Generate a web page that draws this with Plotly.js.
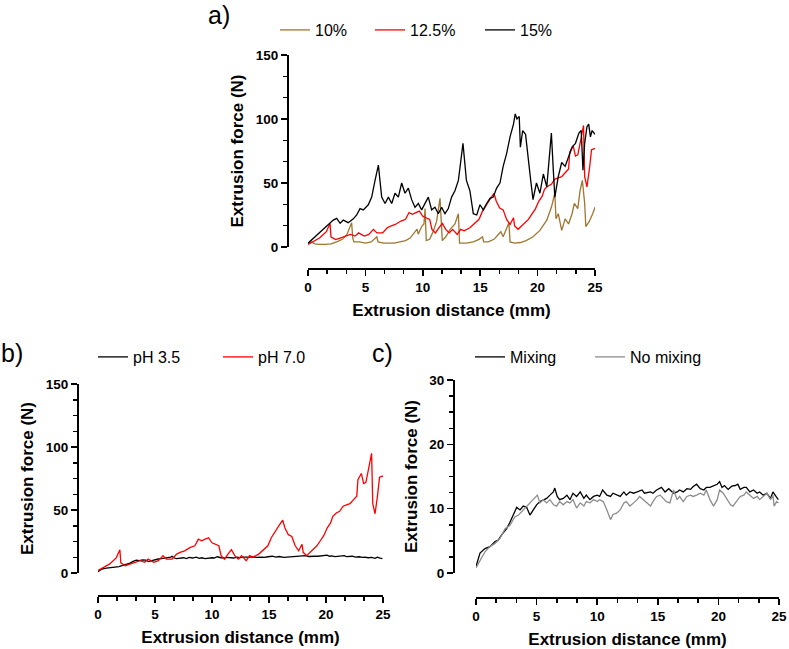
<!DOCTYPE html>
<html><head><meta charset="utf-8">
<script src="https://cdn.plot.ly/plotly-3.0.1.min.js"></script>
<style>html,body{margin:0;padding:0;background:#fff}#chart{width:789px;height:649px}</style>
</head><body><div id="chart"></div>
<script>
// ---- Panel a: extrusion force vs distance at three concentrations ----
const x10 = [0,0.3,0.6,1.0,1.5,2.0,2.5,3.0,3.4,3.7,3.8,3.9,4.0,4.5,5.0,5.5,5.9,6.0,6.1,6.6,7.5,8.0,8.5,8.9,9.2,9.5,9.6,9.9,10.1,10.2,10.3,10.6,10.9,11.2,11.5,11.7,12.0,12.4,12.8,13.1,13.2,13.8,14.4,14.9,15.2,15.3,15.7,16.2,16.6,16.8,17.0,17.3,17.5,17.6,18.0,18.5,19.0,19.6,20.2,20.8,21.2,21.5,21.6,21.8,22.1,22.4,22.7,23.0,23.2,23.5,23.7,23.9,24.1,24.2,24.5,24.8,25.0];
const y10 = [3,4,2.5,2,2,2.5,4,6,10,16,19,7,4,4,3,4,7,8,4,3,3,4,5,7,11,14,10,16,18,30,5,6,12,20,38,5,8,14,18,26,3,3,4,6,8,4,4,6,10,12,8,15,19,4,3,3.5,5,8,13,21,31,42,22,26,13,22,18,26,34,30,44,52,34,16,20,26,31];

const x125 = [0,0.5,1.0,1.6,1.92,2.0,2.4,2.8,3.25,3.7,4.1,4.4,4.9,5.3,5.7,6.0,6.5,6.9,7.2,7.6,8.1,8.5,8.8,9.1,9.4,9.7,10.0,10.3,10.6,10.8,11.1,11.4,11.7,12.0,12.3,12.6,13.0,13.3,13.6,14.1,14.5,14.9,15.2,15.7,15.9,16.2,16.4,16.7,17.0,17.3,17.6,17.9,18.0,18.3,18.6,18.9,19.2,19.5,19.8,20.1,20.4,20.6,20.9,21.2,21.5,21.8,22.1,22.4,22.7,22.8,23.1,23.3,23.5,23.7,23.9,24.0,24.1,24.3,24.5,24.7,25.0];
const y125 = [2,4.2,7,12,18.5,8,5.8,7,8.5,9.8,8.5,11,8.5,9.8,13.8,11,11,15,16.4,17.6,20.3,21.6,26.9,25.6,26.9,28,24,22.8,21.6,13.8,11,15,18.5,13.8,11,13.8,9.8,13.8,12.6,15,18.5,21.6,28,35.7,38,42,35.7,30.4,29,21.6,17.6,22.8,16.4,13.8,16.4,19,21.6,25.6,29.6,35.7,39.7,45,47.6,49,53,54,55,58,61,74,79,71,72,81,91,95,55,47,60,76,77];

const x15 = [0,0.5,1.0,1.5,1.92,2.2,2.5,2.8,3.08,3.5,3.95,4.24,4.53,4.82,5.25,5.55,5.84,6.13,6.42,6.71,7.0,7.29,7.58,7.87,8.16,8.45,8.74,9.03,9.32,9.61,9.9,10.19,10.48,10.77,11.06,11.35,11.64,11.93,12.22,12.51,12.8,13.1,13.4,13.5,13.8,14.1,14.4,14.7,14.98,15.27,15.56,15.85,16.14,16.43,16.72,17.0,17.3,17.6,17.9,18.05,18.2,18.4,18.5,18.7,18.95,19.2,19.4,19.6,19.9,20.2,20.5,20.8,21.1,21.2,21.35,21.5,21.8,22.1,22.4,22.7,23.0,23.3,23.6,23.8,23.95,24.1,24.3,24.45,24.6,24.75,25];
const y15 = [3,7,11,15,18.5,21,22.4,18.5,21,19,22,25,30,29,33,39,52,64,39,34,39,34,42,39,50,42,46,37,31,34,29,34,39,29,31,26,31,26,30,39,44,52,73,81,52,44,26,25,33,29,34,38,39,46,50,63,73,86,96,104,100,102,78,91,88,65,52,37,50,42,57,47,76,89,63,39,55,66,63,71,78,81,89,91,60,81,94,96,86,91,88];

// ---- Panel c: mixing vs no mixing (Mixing curve is also pH 3.5 in panel b) ----
const xMix = [0,0.33,0.74,1.15,1.57,1.84,2.1,2.53,2.8,3.08,3.36,3.63,3.9,4.18,4.45,4.73,5.0,5.28,5.55,5.83,6.1,6.38,6.5,6.7,6.9,7.2,7.5,7.75,8.0,8.3,8.6,8.9,9.1,9.4,9.7,10.0,10.2,10.45,10.8,11.1,11.3,11.6,11.9,12.2,12.4,12.7,13.0,13.3,13.7,13.9,14.4,14.6,14.9,15.3,15.6,15.9,16.3,16.6,16.8,17.1,17.4,17.7,17.9,18.2,18.5,18.8,19.0,19.3,19.6,19.9,20.1,20.3,20.5,20.8,21.1,21.4,21.6,21.8,22.1,22.3,22.6,22.9,23.2,23.4,23.7,24.0,24.3,24.5,24.75,24.95];
const yMix = [1.0,3.1,3.8,4.1,4.9,5.1,5.9,6.9,7.9,9.2,10.2,9.8,10.4,10.2,9.0,9.8,10.6,11.1,11.4,11.6,12.1,12.6,13.2,11.9,11.4,11.6,12.1,11.4,12.4,11.9,12.6,11.6,12.1,11.4,11.9,12.1,11.9,12.9,12.1,11.9,12.4,12.1,11.9,12.6,12.1,12.6,12.4,12.6,12.9,12.4,12.6,12.4,12.9,13.3,12.6,13.1,12.4,12.6,12.9,12.6,13.1,13.0,13.4,13.8,13.1,12.9,13.3,13.3,13.5,13.8,14.2,13.3,13.6,13.0,13.5,13.6,13.8,13.0,13.3,13.3,12.6,12.9,12.4,12.6,12.1,12.4,11.6,12.6,11.9,11.4];
const xNoMix = [0,0.33,0.74,1.15,1.57,1.98,2.4,2.8,3.2,3.5,3.9,4.18,4.45,4.7,5.06,5.28,5.55,5.83,6.1,6.4,6.65,6.9,7.2,7.5,7.75,8.0,8.3,8.6,8.9,9.1,9.4,9.7,10.0,10.2,10.5,10.8,11.1,11.3,11.6,11.9,12.2,12.4,12.7,13.0,13.3,13.5,13.8,14.1,14.4,14.6,14.9,15.2,15.5,15.7,16.0,16.3,16.6,16.8,17.1,17.4,17.7,17.9,18.2,18.5,18.8,19.0,19.3,19.6,19.9,20.1,20.4,20.7,21.0,21.2,21.5,21.8,22.1,22.3,22.6,22.9,23.2,23.4,23.7,24.0,24.3,24.5,24.6,24.8,24.95];
const yNoMix = [0.8,2.0,3.3,4.1,4.6,5.4,6.9,7.4,8.7,9.0,9.8,10.4,10.9,11.4,12.1,10.9,11.4,10.9,11.4,10.6,10.4,11.1,10.6,11.1,10.9,11.4,10.1,10.9,10.4,11.1,10.9,11.4,11.1,11.4,11.1,9.8,8.3,9.1,9.3,9.8,10.9,11.1,10.4,10.9,11.4,11.9,11.4,10.9,10.4,11.1,11.9,12.1,11.4,11.1,10.9,12.9,11.4,11.9,11.1,11.9,12.1,11.9,12.1,12.4,12.1,12.9,11.4,10.4,11.4,12.9,12.4,11.6,10.6,10.4,11.1,11.9,12.1,12.6,12.1,11.6,11.9,11.4,11.9,12.4,11.4,12.1,10.4,11.1,10.9];

const names = {c10:'10%', c125:'12.5%', c15:'15%', ph35:'pH 3.5', ph70:'pH 7.0', mix:'Mixing', nomix:'No mixing'};

const W = 789, H = 649;
const px = v => v / W, py = v => 1 - v / H;
const FONT = 'Liberation Sans, Arial, sans-serif';
const BROWN = '#a0762f', RED = '#ff0000', BLACK = '#000000', GREY = '#8c8c8c';

function xAxis(d0, d1, pos) {
  return {
    domain: [px(d0), px(d1)], anchor: 'free', position: py(pos),
    range: [0, 25], tick0: 0, dtick: 5, ticks: 'outside', ticklen: 6, tickwidth: 1.5, tickcolor: '#000',
    showline: true, linewidth: 1.5, linecolor: '#000', showgrid: false, zeroline: false,
    tickfont: {family: FONT, size: 13.5, color: '#000', weight: 'bold'},
    minor: {dtick: 5/3, ticks: 'outside', ticklen: 4, tickwidth: 1.5, tickcolor: '#000', showgrid: false},
    title: {text: 'Extrusion distance (mm)', font: {family: FONT, size: 17, color: '#000', weight: 'bold'}, standoff: 10}
  };
}
function yAxis(d0, d1, pos, top, dt, mdt) {
  return {
    domain: [py(d0), py(d1)], anchor: 'free', position: px(pos),
    range: [0, top], tick0: 0, dtick: dt, ticks: 'outside', ticklen: 6, tickwidth: 1.5, tickcolor: '#000',
    showline: true, linewidth: 1.5, linecolor: '#000', showgrid: false, zeroline: false,
    tickfont: {family: FONT, size: 13.5, color: '#000', weight: 'bold'},
    minor: {dtick: mdt, ticks: 'outside', ticklen: 4, tickwidth: 1.5, tickcolor: '#000', showgrid: false},
    title: {text: 'Extrusion force (N)', font: {family: FONT, size: 17, color: '#000', weight: 'bold'}, standoff: 6}
  };
}
function line(x, y, name, color, xa, ya, lg) {
  return {x: x, y: y, name: name, type: 'scatter', mode: 'lines', xaxis: xa, yaxis: ya, legend: lg,
          line: {color: color, width: 1.3}, hoverinfo: 'skip'};
}

const data = [
  line(x10, y10, names.c10, BROWN, 'x', 'y', 'legend'),
  line(x125, y125, names.c125, RED, 'x', 'y', 'legend2'),
  line(x15, y15, names.c15, BLACK, 'x', 'y', 'legend3'),
  line(xMix, yMix, names.ph35, BLACK, 'x2', 'y2', 'legend4'),
  line(x125, y125, names.ph70, RED, 'x2', 'y2', 'legend5'),
  line(xMix, yMix, names.mix, BLACK, 'x3', 'y3', 'legend6'),
  line(xNoMix, yNoMix, names.nomix, GREY, 'x3', 'y3', 'legend7')
];

function leg(x, y) {
  return {orientation: 'h', xanchor: 'left', yanchor: 'middle', x: px(x), y: py(y),
    bgcolor: 'rgba(0,0,0,0)', borderwidth: 0, itemwidth: 30,
    font: {family: FONT, size: 16, color: '#000'}, itemclick: false, itemdoubleclick: false};
}

const layout = {
  width: W, height: H, autosize: false, margin: {l: 0, r: 0, t: 0, b: 0},
  paper_bgcolor: '#fff', plot_bgcolor: 'rgba(0,0,0,0)', showlegend: true,
  font: {family: FONT, color: '#000'},
  xaxis: xAxis(308, 595, 268),
  yaxis: yAxis(247, 55, 287, 150, 50, 50/3),
  xaxis2: xAxis(98, 383, 595),
  yaxis2: yAxis(573, 384, 77, 150, 50, 12.5),
  xaxis3: xAxis(476, 779, 597),
  yaxis3: yAxis(573, 380, 453, 30, 10, 2.5),
  legend: leg(275, 30),
  legend2: leg(370, 30),
  legend3: leg(480, 30),
  legend4: leg(93, 357),
  legend5: leg(218, 357),
  legend6: leg(470, 357),
  legend7: leg(590, 357),
  annotations: [
    {text: 'a)', x: px(206), y: py(15), xref: 'paper', yref: 'paper', xanchor: 'left', yanchor: 'middle', showarrow: false, font: {family: FONT, size: 25, color: '#000'}},
    {text: 'b)', x: px(-1), y: py(353), xref: 'paper', yref: 'paper', xanchor: 'left', yanchor: 'middle', showarrow: false, font: {family: FONT, size: 25, color: '#000'}},
    {text: 'c)', x: px(370), y: py(353), xref: 'paper', yref: 'paper', xanchor: 'left', yanchor: 'middle', showarrow: false, font: {family: FONT, size: 25, color: '#000'}}
  ]
};

Plotly.newPlot('chart', data, layout, {staticPlot: true, displayModeBar: false});
</script></body></html>
